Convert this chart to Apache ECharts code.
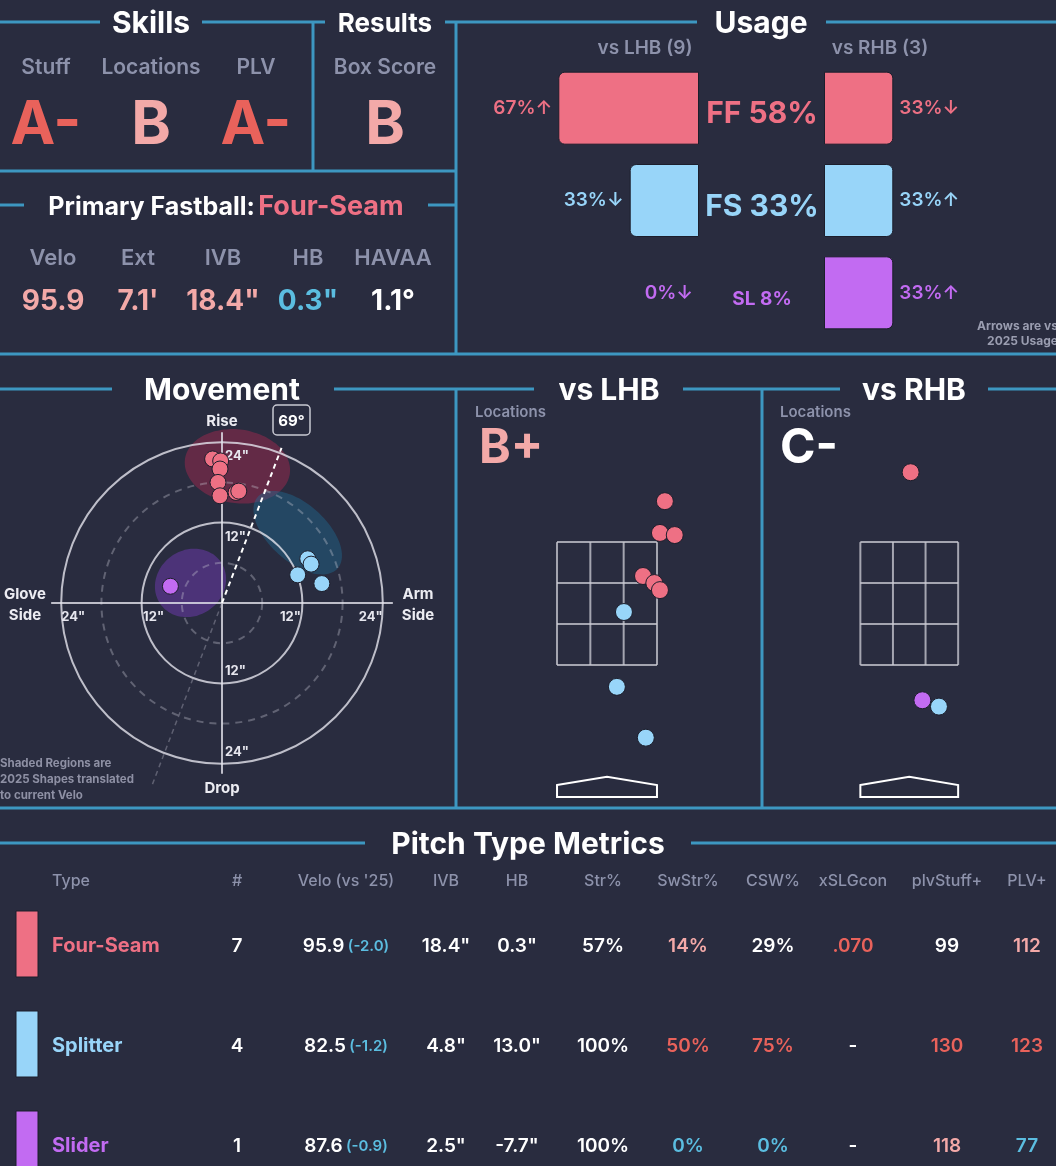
<!DOCTYPE html>
<html>
<head>
<meta charset="utf-8">
<script src="https://cdn.jsdelivr.net/npm/echarts@6/dist/echarts.min.js"></script>
<style>
html, body { margin: 0; padding: 0; background: #292c3f; }
#main { width: 1056px; height: 1166px; }
</style>
</head>
<body>
<div id="main"></div>
<script>
// ---------- data ----------
var pitchTypes = ['FF', 'FS', 'SL'];
var pitchNames = ['Four-Seam', 'Splitter', 'Slider'];
var usageAll = [58, 33, 8];
var usageLHB = [67, 33, 0];
var usageRHB = [33, 33, 33];
var trendLHB = ['up', 'down', 'down'];
var trendRHB = ['down', 'up', 'up'];
var countLHB = 9;
var countRHB = 3;

var skillLabels = ['Stuff', 'Locations', 'PLV'];
var skillGrades = ['A-', 'B', 'A-'];
var resultLabel = 'Box Score';
var resultGrade = 'B';
var primaryFastball = 'Four-Seam';

var fbLabels = ['Velo', 'Ext', 'IVB', 'HB', 'HAVAA'];
var fbValues = ['95.9', "7.1'", '18.4"', '0.3"', '1.1°'];
var fbTiers = ['good', 'good', 'good', 'poor', 'avg'];

// movement [HB, IVB] in inches
var moveFF = [[-1.4, 21.5], [-0.2, 21.2], [-0.3, 20.0], [-0.6, 18.0], [-0.3, 16.0], [2.1, 16.5], [2.5, 16.7]];
var moveFS = [[12.8, 6.6], [13.3, 5.8], [11.3, 4.2], [14.9, 2.9]];
var moveSL = [[-7.7, 2.5]];
// 2025 shapes: [centerHB, centerIVB, radiusX, radiusY, tilt deg]
var shapes2025 = [[2.3, 20.4, 7.9, 5.5, -8], [11.3, 10.5, 8.0, 4.3, -42], [-4.7, 3.0, 5.5, 4.9, 35]];
var armAngle = 69;
var ringRadii = [6, 12, 18, 24];
var ringTicks = [12, 24];

// locations [plate_x, plate_z] in feet
var locLHB_FF = [[0.82, 3.87], [0.75, 3.42], [0.96, 3.39], [0.51, 2.81], [0.67, 2.71], [0.75, 2.61]];
var locLHB_FS = [[0.24, 2.30], [0.14, 1.24], [0.55, 0.52]];
var locLHB_SL = [];
var locRHB_FF = [[0.02, 4.28]];
var locRHB_FS = [[0.43, 0.96]];
var locRHB_SL = [[0.19, 1.05]];
var locGrades = ['B+', 'C-'];

// table
var tblHeaders = ['Type', '#', "Velo (vs '25)", 'IVB', 'HB', 'Str%', 'SwStr%', 'CSW%', 'xSLGcon', 'plvStuff+', 'PLV+'];
var tblCount = ['7', '4', '1'];
var tblVelo = ['95.9', '82.5', '87.6'];
var tblVeloDiff = ['-2.0', '-1.2', '-0.9'];
var tblIVB = ['18.4"', '4.8"', '2.5"'];
var tblHB = ['0.3"', '13.0"', '-7.7"'];
var tblStr = ['57%', '100%', '100%'];
var tblSwStr = ['14%', '50%', '0%'];
var tblCSW = ['29%', '75%', '0%'];
var tblXSLG = ['.070', '-', '-'];
var tblStuff = ['99', '130', '118'];
var tblPLV = ['112', '123', '77'];
var tierSwStr = ['good', 'elite', 'poor'];
var tierCSW = ['avg', 'elite', 'poor'];
var tierXSLG = ['elite', 'avg', 'avg'];
var tierStuff = ['avg', 'elite', 'good'];
var tierPLV = ['good', 'elite', 'poor'];

// ---------- style ----------
var BG = '#292c3f';
var TEAL = '#3d97c1';
var GRAY = '#8d92ab';
var WHITE = '#ffffff';
var FONT = 'Inter, "Noto Sans", sans-serif';
var pitchColors = ['#ee7084', '#98d5f9', '#c26bf2'];
var shapeFills = ['rgba(180,40,80,0.42)', 'rgba(30,110,150,0.42)', 'rgba(120,60,190,0.45)'];
var tierColor = { elite: '#e9625b', good: '#f3a9a8', avg: '#ffffff', poor: '#5bbde0' };
var gradeColor = { 'A-': '#e9625b', 'B': '#f3a9a8', 'B+': '#f3a9a8', 'C-': '#ffffff' };
var szLeft = -0.708, szRight = 0.708, szBot = 1.55, szTop = 3.29;

var myChart = echarts.init(document.getElementById('main'));

var els = [];
// text baseline in Inter sits a little high, nudge down
function addText(x, y, s, size, color, align, weight) {
    els.push({
        type: 'text', x: x, y: y + 2, z: 10,
        style: {
            text: s, fill: color,
            font: (weight || 700) + ' ' + size + 'px ' + FONT,
            align: align || 'center', verticalAlign: 'middle'
        }
    });
}
function addLine(x1, y1, x2, y2) {
    els.push({ type: 'line', z: 5, shape: { x1: x1, y1: y1, x2: x2, y2: y2 }, style: { stroke: TEAL, lineWidth: 3 } });
}

// section lines
addLine(0, 22, 100, 22); addLine(202, 22, 325, 22); addLine(313, 22, 313, 171);
addLine(445, 22, 697, 22); addLine(826, 22, 1056, 22);
addLine(456, 22, 456, 355); addLine(0, 171, 456, 171);
addLine(0, 205, 24, 205); addLine(428, 205, 456, 205);
addLine(0, 354, 1056, 354);
addLine(0, 389, 112, 389); addLine(334, 389, 534, 389); addLine(683, 389, 840, 389); addLine(988, 389, 1056, 389);
addLine(456, 389, 456, 808); addLine(762, 389, 762, 808);
addLine(0, 808, 1056, 808);
addLine(0, 843, 365, 843); addLine(691, 843, 1056, 843);

// headers
addText(151, 22, 'Skills', 30, WHITE);
addText(385, 22, 'Results', 26, WHITE);
addText(761, 22, 'Usage', 30, WHITE);
addText(222, 389, 'Movement', 30, WHITE);
addText(609, 389, 'vs LHB', 30, WHITE);
addText(914, 389, 'vs RHB', 30, WHITE);
addText(528, 843, 'Pitch Type Metrics', 30, WHITE);

// skills
var skillX = [46, 151, 256];
skillLabels.forEach(function (s, i) {
    addText(skillX[i], 66, s, 21, GRAY, 'center', 600);
    addText(skillX[i], 124, skillGrades[i], 60, gradeColor[skillGrades[i]]);
});
addText(385, 66, resultLabel, 21, GRAY, 'center', 600);
addText(385, 124, resultGrade, 60, gradeColor[resultGrade]);

// primary fastball
els.push({
    type: 'text', x: 226, y: 207, z: 10,
    style: {
        text: '{a|Primary Fastball:} {b|' + primaryFastball + '}',
        align: 'center', verticalAlign: 'middle',
        rich: {
            a: { fill: WHITE, fontSize: 25, fontWeight: 700, fontFamily: FONT },
            b: { fill: pitchColors[0], fontSize: 27, fontWeight: 700, fontFamily: FONT }
        }
    }
});
var fbX = [53, 138, 223, 308, 393];
fbLabels.forEach(function (s, i) {
    addText(fbX[i], 256, s, 22, GRAY, 'center', 600);
    addText(fbX[i], 300, fbValues[i], 28, tierColor[fbTiers[i]], 'center', 700);
});

// usage side headers + note
addText(645, 46, 'vs LHB (' + countLHB + ')', 19, GRAY, 'center', 600);
addText(880, 46, 'vs RHB (' + countRHB + ')', 19, GRAY, 'center', 600);
addText(1058, 324, 'Arrows are vs', 12, '#9a9db0', 'right', 700);
addText(1058, 339, '2025 Usage', 12, '#9a9db0', 'right', 700);

// movement labels
addText(222, 419, 'Rise', 15, '#ececf2');
addText(222, 786, 'Drop', 15, '#ececf2');
addText(25, 592, 'Glove', 15, '#ececf2');
addText(25, 613, 'Side', 15, '#ececf2');
addText(418, 592, 'Arm', 15, '#ececf2');
addText(418, 613, 'Side', 15, '#ececf2');
els.push({ type: 'rect', z: 9, shape: { x: 273, y: 405, width: 37, height: 30, r: 4 }, style: { fill: BG, stroke: '#c8c9d2', lineWidth: 1.5 } });
addText(291.5, 419, armAngle + '°', 15, WHITE);
addText(0, 762, 'Shaded Regions are', 11.5, '#8e90a4', 'left', 700);
addText(0, 778, '2025 Shapes translated', 11.5, '#8e90a4', 'left', 700);
addText(0, 794, 'to current Velo', 11.5, '#8e90a4', 'left', 700);

// locations labels
addText(475, 410, 'Locations', 15, GRAY, 'left', 600);
addText(479, 447, locGrades[0], 48, gradeColor[locGrades[0]], 'left', 700);
addText(780, 410, 'Locations', 15, GRAY, 'left', 600);
addText(780, 447, locGrades[1], 48, gradeColor[locGrades[1]], 'left', 700);

// table
var colX = [52, 237, 346, 446, 517, 603, 688, 773, 853, 947, 1027];
var rowY = [944, 1044, 1144];
tblHeaders.forEach(function (h, c) {
    addText(colX[c], 879, h, 16, GRAY, c === 0 ? 'left' : 'center', 500);
});
pitchNames.forEach(function (name, r) {
    var y = rowY[r];
    els.push({ type: 'rect', z: 8, shape: { x: 16, y: y - 33, width: 22, height: 66 }, style: { fill: pitchColors[r], stroke: '#1c1e2c', lineWidth: 1 } });
    addText(colX[0], y, name, 20, pitchColors[r], 'left', 700);
    addText(colX[1], y, tblCount[r], 19, WHITE, 'center', 600);
    els.push({
        type: 'text', x: colX[2], y: y + 2, z: 10,
        style: {
            text: '{v|' + tblVelo[r] + '} {d|(' + tblVeloDiff[r] + ')}',
            align: 'center', verticalAlign: 'middle',
            rich: {
                v: { fill: WHITE, fontSize: 19, fontWeight: 600, fontFamily: FONT },
                d: { fill: '#5bbde0', fontSize: 15, fontWeight: 600, fontFamily: FONT }
            }
        }
    });
    addText(colX[3], y, tblIVB[r], 19, WHITE, 'center', 600);
    addText(colX[4], y, tblHB[r], 19, WHITE, 'center', 600);
    addText(colX[5], y, tblStr[r], 19, WHITE, 'center', 600);
    addText(colX[6], y, tblSwStr[r], 19, tierColor[tierSwStr[r]], 'center', 600);
    addText(colX[7], y, tblCSW[r], 19, tierColor[tierCSW[r]], 'center', 600);
    addText(colX[8], y, tblXSLG[r], 19, tierColor[tierXSLG[r]], 'center', 600);
    addText(colX[9], y, tblStuff[r], 19, tierColor[tierStuff[r]], 'center', 600);
    addText(colX[10], y, tblPLV[r], 19, tierColor[tierPLV[r]], 'center', 600);
});

function arrow(t) { return t === 'up' ? '↑' : '↓'; }

function barData(vals) {
    return vals.map(function (v, i) {
        return {
            value: v,
            itemStyle: { color: pitchColors[i], borderWidth: v > 0 ? 1 : 0 },
            label: { color: pitchColors[i] }
        };
    });
}

function dotSeries(data, idx, axis, size) {
    return {
        type: 'scatter', xAxisIndex: axis, yAxisIndex: axis, z: 6,
        symbolSize: size, data: data,
        itemStyle: { color: pitchColors[idx], borderColor: '#1c1e2c', borderWidth: 1, opacity: 1 }
    };
}

function zoneSeries(axis) {
    return {
        type: 'custom', xAxisIndex: axis, yAxisIndex: axis, z: 3, silent: true,
        data: [[szLeft, szBot, szRight, szTop]],
        renderItem: function (params, api) {
            var x0 = api.value(0), y0 = api.value(1), x1 = api.value(2), y1 = api.value(3);
            var st = { stroke: 'rgba(205,205,215,0.75)', lineWidth: 2 };
            var kids = [];
            for (var k = 0; k <= 3; k++) {
                var xx = x0 + (x1 - x0) * k / 3, yy = y0 + (y1 - y0) * k / 3;
                var a = api.coord([xx, y0]), b = api.coord([xx, y1]);
                kids.push({ type: 'line', shape: { x1: a[0], y1: a[1], x2: b[0], y2: b[1] }, style: st });
                var c = api.coord([x0, yy]), d = api.coord([x1, yy]);
                kids.push({ type: 'line', shape: { x1: c[0], y1: c[1], x2: d[0], y2: d[1] }, style: st });
            }
            // home plate
            var w = (x1 - x0) / 2;
            var plate = [[-w, -0.15], [0, -0.035], [w, -0.15], [w, -0.32], [-w, -0.32]].map(function (p) { return api.coord(p); });
            kids.push({ type: 'polygon', shape: { points: plate }, style: { fill: 'none', stroke: '#ffffff', lineWidth: 2 } });
            return { type: 'group', children: kids };
        }
    };
}

var rad = armAngle * Math.PI / 180;

var option = {
    backgroundColor: BG,
    animation: false,
    textStyle: { fontFamily: FONT },
    grid: [
        { left: 489, top: 62, width: 210, height: 277 },
        { left: 824, top: 62, width: 210, height: 277 },
        { left: 21, top: 402, width: 402, height: 402 },
        { left: 457, top: 435.5, width: 300, height: 374.2 },
        { left: 762.5, top: 435.5, width: 300, height: 374.2 }
    ],
    xAxis: [
        { gridIndex: 0, type: 'value', min: 0, max: 100, inverse: true, show: false },
        { gridIndex: 1, type: 'value', min: 0, max: 100, show: false },
        { gridIndex: 2, type: 'value', min: -30, max: 30, show: false },
        { gridIndex: 3, type: 'value', min: -2.125, max: 2.125, show: false },
        { gridIndex: 4, type: 'value', min: -2.125, max: 2.125, show: false }
    ],
    yAxis: [
        { gridIndex: 0, type: 'category', data: pitchTypes, inverse: true, show: false },
        {
            gridIndex: 1, type: 'category', data: pitchTypes, inverse: true,
            axisLine: { show: false }, axisTick: { show: false }, splitLine: { show: false },
            axisLabel: {
                margin: 62, align: 'center',
                formatter: function (v, i) { return '{' + v + '|' + v + ' ' + usageAll[i] + '%}'; },
                rich: {
                    FF: { color: pitchColors[0], fontSize: 30, fontWeight: 700, fontFamily: FONT, padding: [12, 0, 0, 0] },
                    FS: { color: pitchColors[1], fontSize: 30, fontWeight: 700, fontFamily: FONT, padding: [12, 0, 0, 0] },
                    SL: { color: pitchColors[2], fontSize: 19, fontWeight: 700, fontFamily: FONT, padding: [12, 0, 0, 0] }
                }
            }
        },
        { gridIndex: 2, type: 'value', min: -30, max: 30, show: false },
        { gridIndex: 3, type: 'value', min: -0.5, max: 4.8, show: false },
        { gridIndex: 4, type: 'value', min: -0.5, max: 4.8, show: false }
    ],
    graphic: els,
    series: [
        // usage
        {
            type: 'bar', xAxisIndex: 0, yAxisIndex: 0, barWidth: 73,
            data: barData(usageLHB),
            itemStyle: { borderRadius: [6, 0, 0, 6], borderColor: '#1c1e2c' },
            label: {
                show: true, position: 'left', distance: 6, fontSize: 19, fontWeight: 600, fontFamily: FONT,
                formatter: function (p) { return p.value + '%' + arrow(trendLHB[p.dataIndex]); }
            }
        },
        {
            type: 'bar', xAxisIndex: 1, yAxisIndex: 1, barWidth: 73,
            data: barData(usageRHB),
            itemStyle: { borderRadius: [0, 6, 6, 0], borderColor: '#1c1e2c' },
            label: {
                show: true, position: 'right', distance: 6, fontSize: 19, fontWeight: 600, fontFamily: FONT,
                formatter: function (p) { return p.value + '%' + arrow(trendRHB[p.dataIndex]); }
            }
        },
        // movement: 2025 shapes
        {
            type: 'custom', xAxisIndex: 2, yAxisIndex: 2, z: 1, silent: true,
            dimensions: ['cx', 'cy', 'rx', 'ry', 'rot', 'k'],
            encode: { x: 0, y: 1 },
            data: shapes2025.map(function (s, i) { return s.concat([i]); }),
            renderItem: function (params, api) {
                var cx = api.value(0), cy = api.value(1), rx = api.value(2), ry = api.value(3);
                var rot = api.value(4) * Math.PI / 180, k = api.value(5);
                var pts = [];
                for (var t = 0; t < 72; t++) {
                    var a = t / 72 * 2 * Math.PI;
                    var dx = rx * Math.cos(a), dy = ry * Math.sin(a);
                    pts.push(api.coord([cx + dx * Math.cos(rot) - dy * Math.sin(rot), cy + dx * Math.sin(rot) + dy * Math.cos(rot)]));
                }
                return { type: 'polygon', shape: { points: pts, smooth: 0.3 }, style: { fill: shapeFills[k] } };
            }
        },
        // movement rings + labels
        {
            type: 'custom', xAxisIndex: 2, yAxisIndex: 2, z: 2, silent: true,
            data: ringRadii.map(function (r) { return [r, 0]; }),
            renderItem: function (params, api) {
                var r = api.value(0);
                var c = api.coord([0, 0]);
                var rp = api.size([r, 0])[0];
                var solid = ringTicks.indexOf(r) >= 0;
                var kids = [{
                    type: 'circle', shape: { cx: c[0], cy: c[1], r: rp },
                    style: { fill: 'none', stroke: solid ? 'rgba(228,228,236,0.8)' : 'rgba(200,200,212,0.35)', lineWidth: 2, lineDash: solid ? null : [7, 6] }
                }];
                if (solid) {
                    var f = '700 13px ' + FONT, col = '#e6e6ee', s = r + '"';
                    kids.push({ type: 'text', x: c[0] - rp + 12, y: c[1] + 14, style: { text: s, font: f, fill: col, align: 'center', verticalAlign: 'middle' } });
                    kids.push({ type: 'text', x: c[0] + rp - 12, y: c[1] + 14, style: { text: s, font: f, fill: col, align: 'center', verticalAlign: 'middle' } });
                    kids.push({ type: 'text', x: c[0] + 3, y: c[1] - rp + 14, style: { text: s, font: f, fill: col, align: 'left', verticalAlign: 'middle' } });
                    kids.push({ type: 'text', x: c[0] + 3, y: c[1] + rp - 12, style: { text: s, font: f, fill: col, align: 'left', verticalAlign: 'middle' } });
                }
                return { type: 'group', children: kids };
            }
        },
        // movement cross axes
        {
            type: 'custom', xAxisIndex: 2, yAxisIndex: 2, z: 2, silent: true,
            data: [[25.5, 0]],
            renderItem: function (params, api) {
                var L = api.value(0);
                var a = api.coord([-L, 0]), b = api.coord([L, 0]), c = api.coord([0, L]), d = api.coord([0, -L]);
                var st = { stroke: 'rgba(228,228,236,0.8)', lineWidth: 2 };
                return {
                    type: 'group', children: [
                        { type: 'line', shape: { x1: a[0], y1: a[1], x2: b[0], y2: b[1] }, style: st },
                        { type: 'line', shape: { x1: c[0], y1: c[1], x2: d[0], y2: d[1] }, style: st }
                    ]
                };
            }
        },
        // arm angle
        {
            type: 'line', xAxisIndex: 2, yAxisIndex: 2, z: 3, symbol: 'none', silent: true,
            data: [[0, 0], [24.8 * Math.cos(rad), 24.8 * Math.sin(rad)]],
            lineStyle: { color: '#ffffff', width: 2, type: [5, 4] }
        },
        {
            type: 'line', xAxisIndex: 2, yAxisIndex: 2, z: 3, symbol: 'none', silent: true,
            data: [[0, 0], [-29.5 * Math.cos(rad), -29.5 * Math.sin(rad)]],
            lineStyle: { color: 'rgba(160,160,175,0.45)', width: 1.5, type: [5, 4] }
        },
        dotSeries(moveSL, 2, 2, 16),
        dotSeries(moveFS, 1, 2, 16),
        dotSeries(moveFF, 0, 2, 16),
        // locations
        zoneSeries(3),
        zoneSeries(4),
        dotSeries(locLHB_FF, 0, 3, 17),
        dotSeries(locLHB_FS, 1, 3, 17),
        dotSeries(locLHB_SL, 2, 3, 17),
        dotSeries(locRHB_FF, 0, 4, 17),
        dotSeries(locRHB_FS, 1, 4, 17),
        dotSeries(locRHB_SL, 2, 4, 17)
    ]
};
myChart.setOption(option);
</script>
</body>
</html>
